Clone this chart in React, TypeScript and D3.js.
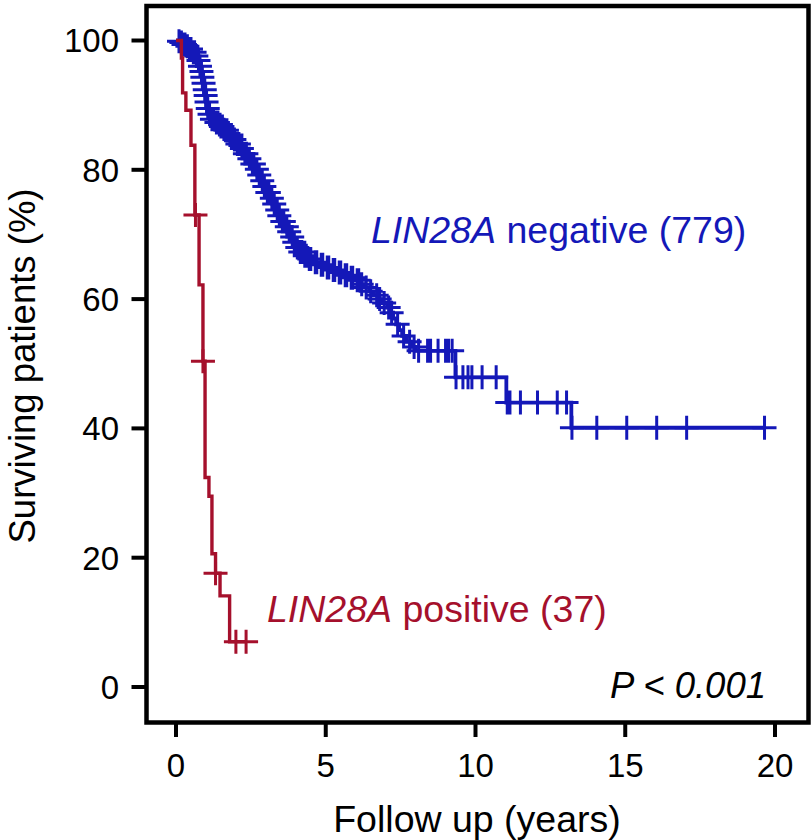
import React from 'react';
import * as d3 from 'd3';

const W = 812;
const H = 840;

const xTickValues = [0, 5, 10, 15, 20];
const yTickValues = [0, 20, 40, 60, 80, 100];
const xTitle = 'Follow up (years)';
const yTitle = 'Surviving patients (%)';
const pText = 'P < 0.001';

// LIN28A negative (779): [time in years, survival % after the drop]
const negSteps: [number, number][] = [
  [0.05, 99.9], [0.15, 99.7], [0.25, 99.4], [0.35, 99.1], [0.45, 98.7], [0.55, 98.2],
  [0.65, 97.6], [0.72, 96.9], [0.78, 96.0], [0.83, 95.2], [0.87, 94.3], [0.9, 93.4],
  [0.94, 92.4], [0.97, 91.5], [1.0, 90.5], [1.04, 89.5], [1.08, 88.6], [1.14, 87.8],
  [1.3, 87.3], [1.45, 86.7], [1.6, 86.1], [1.75, 85.4], [1.9, 84.7], [2.0, 84.0],
  [2.12, 83.3], [2.25, 82.5], [2.38, 81.7], [2.5, 80.9], [2.62, 80.1], [2.72, 79.2],
  [2.82, 78.3], [2.92, 77.4], [3.02, 76.5], [3.12, 75.6], [3.22, 74.7], [3.32, 73.8],
  [3.42, 72.9], [3.52, 72.0], [3.62, 71.2], [3.72, 70.4], [3.82, 69.6], [3.92, 68.8],
  [4.02, 68.0], [4.12, 67.3], [4.25, 66.7], [4.4, 66.2], [4.6, 65.7], [4.8, 65.3],
  [5.0, 64.9], [5.2, 64.5], [5.4, 64.1], [5.6, 63.7], [5.8, 63.3], [6.0, 62.9],
  [6.15, 62.3], [6.3, 61.8], [6.45, 61.2], [6.6, 60.6], [6.75, 60.0], [6.9, 59.4],
  [7.05, 58.7], [7.15, 57.9], [7.25, 57.0], [7.35, 56.1], [7.45, 55.2], [7.55, 54.3],
  [7.7, 53.4], [7.85, 52.6], [8.0, 52.0], [9.33, 47.9], [11.03, 44.0], [13.2, 40.1],
];
const negCensor: number[] = [
  0.1, 0.18, 0.25, 0.3, 0.38, 0.45, 0.5, 0.58, 0.62, 0.68, 0.75, 0.8, 0.85, 0.88,
  0.92, 0.96, 0.99, 1.02, 1.06, 1.12, 1.2, 1.25, 1.35, 1.4, 1.5, 1.55, 1.65, 1.7,
  1.8, 1.85, 1.95, 2.05, 2.1, 2.2, 2.3, 2.35, 2.45, 2.55, 2.6, 2.7, 2.78, 2.88,
  2.95, 3.05, 3.1, 3.2, 3.28, 3.38, 3.45, 3.55, 3.6, 3.7, 3.78, 3.88, 3.95, 4.05,
  4.15, 4.2, 4.3, 4.35, 4.45, 4.5, 4.65, 4.7, 4.85, 4.9, 5.05, 5.1, 5.25, 5.3,
  5.45, 5.5, 5.65, 5.7, 5.85, 5.9, 6.05, 6.1, 6.2, 6.35, 6.5, 6.7, 6.8, 6.95,
  7.1, 7.2, 7.4, 7.6, 7.8, 7.95, 8.1, 8.4, 8.5, 8.75, 9.0, 9.1, 9.22,
  9.35, 9.58, 9.75, 9.88, 10.22, 10.69,
  11.06, 11.15, 11.5, 12.07, 12.73, 13.04,
  13.22, 14.05, 15.05, 16.05, 17.05, 19.65,
];
const negEnd = 19.65;

// LIN28A positive (37)
const posSteps: [number, number][] = [
  [0.18, 97.3], [0.22, 91.9], [0.33, 89.2], [0.5, 83.8], [0.63, 73.0], [0.77, 62.2],
  [0.9, 50.4], [0.97, 32.4], [1.1, 29.5], [1.2, 20.6], [1.32, 17.6], [1.47, 14.1],
  [1.79, 7.0],
];
const posCensor: number[] = [0.65, 0.9, 1.32, 2.0, 2.34];
const posEnd = 2.34;

const BLUE = '#1418b8';
const RED = '#a5102c';
const FONT = '"Liberation Sans", Arial, Helvetica, sans-serif';

export default function App() {
  const x = d3.scaleLinear().domain([0, 20]).range([176, 775]);
  const y = d3.scaleLinear().domain([0, 100]).range([687, 40.5]);

  const survAt = (steps: [number, number][], t: number) => {
    let s = 100;
    for (const [tt, v] of steps) if (tt <= t) s = v;
    return s;
  };
  const pathFor = (steps: [number, number][], end: number) => {
    const pts: [number, number][] = [[0, 100], ...steps, [end, steps[steps.length - 1][1]]];
    return d3
      .line<[number, number]>()
      .x((d) => x(d[0]))
      .y((d) => y(d[1]))
      .curve(d3.curveStepAfter)(pts) as string;
  };
  const arm = 12;
  const censorPath = (steps: [number, number][], times: number[]) =>
    times
      .map((t) => {
        const cx = x(t);
        const cy = y(survAt(steps, t));
        return `M${cx - arm},${cy}H${cx + arm}M${cx},${cy - arm}V${cy + arm}`;
      })
      .join('');

  const frame = { l: 146.5, t: 6, r: 808.5, b: 722.5 };

  return (
    <svg width={W} height={H} style={{ position: 'absolute', left: 0, top: 0, background: '#fff' }} fontFamily={FONT}>
      <rect x={0} y={0} width={W} height={H} fill="#fff" />
      {/* curves */}
      <path d={pathFor(negSteps, negEnd)} fill="none" stroke={BLUE} strokeWidth={3.8} />
      <path d={censorPath(negSteps, negCensor)} fill="none" stroke={BLUE} strokeWidth={3} />
      <path d={pathFor(posSteps, posEnd)} fill="none" stroke={RED} strokeWidth={3.4} />
      <path d={censorPath(posSteps, posCensor)} fill="none" stroke={RED} strokeWidth={3} />

      {/* frame */}
      <rect x={frame.l} y={frame.t} width={frame.r - frame.l} height={frame.b - frame.t} fill="none" stroke="#000" strokeWidth={4.5} />

      {/* y axis */}
      {yTickValues.map((v) => (
        <g key={'y' + v}>
          <line x1={131.5} x2={frame.l} y1={y(v)} y2={y(v)} stroke="#000" strokeWidth={4} />
          <text x={119} y={y(v)} dy="0.36em" textAnchor="end" fontSize={33} fill="#000">
            {v}
          </text>
        </g>
      ))}
      {/* x axis */}
      {xTickValues.map((v) => (
        <g key={'x' + v}>
          <line x1={x(v)} x2={x(v)} y1={frame.b} y2={737} stroke="#000" strokeWidth={4} />
          <text x={x(v)} y={777} textAnchor="middle" fontSize={33} fill="#000">
            {v}
          </text>
        </g>
      ))}

      <text x={477} y={832} textAnchor="middle" fontSize={37.5} fill="#000">
        {xTitle}
      </text>
      <text transform="translate(35,366) rotate(-90)" textAnchor="middle" fontSize={36.5} fill="#000">
        {yTitle}
      </text>

      <text x={371} y={243} fontSize={37.5} fill={BLUE}>
        <tspan fontStyle="italic">LIN28A</tspan>
        <tspan> negative (779)</tspan>
      </text>
      <text x={267} y={622} fontSize={37.5} fill={RED}>
        <tspan fontStyle="italic">LIN28A</tspan>
        <tspan> positive (37)</tspan>
      </text>
      <text x={766} y={698} textAnchor="end" fontSize={36.5} fontStyle="italic" fill="#000">
        {pText}
      </text>
    </svg>
  );
}
